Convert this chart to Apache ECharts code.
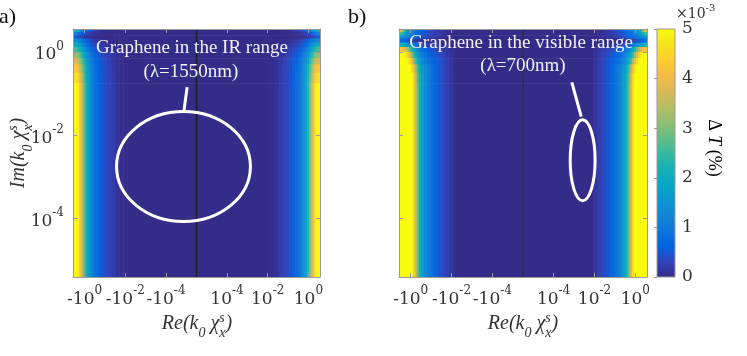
<!DOCTYPE html>
<html>
<head>
<meta charset="utf-8">
<script src="https://cdn.jsdelivr.net/npm/echarts@6/dist/echarts.min.js"></script>
<style>
html, body { margin: 0; padding: 0; background: #fff; }
#main { width: 747px; height: 356px; }
</style>
</head>
<body>
<div id="main"></div>
<script>
// x is plotted as sign(Re) * (log10|Re| + 5.5), y as log10(Im)
var X_MIN = -6.07, X_MAX = 6.07;
var Y_MIN = -5.4, Y_MAX = 0.55;

var xTickVals = [-5.5, -3.5, -1.5, 1.5, 3.5, 5.5];
var xTickLabels = ['-10^0', '-10^-2', '-10^-4', '10^-4', '10^-2', '10^0'];
var yTickVals = [0, -2, -4];
var yTickLabels = ['10^0', '10^-2', '10^-4'];

// column edges of the left half (mirrored for the right half)
var colEdges = [-6.07, -5.9, -5.8, -5.7, -5.6, -5.5, -5.4, -5.3, -5.2, -5.1, -5.0,
  -4.85, -4.7, -4.55, -4.4, -4.2, -4.0, -3.8, -3.6, -3.4, 0];
// row edges, top to bottom (log10 Im)
var rowEdges = [0.55, 0.48, 0.40, 0.32, 0.22, 0.12, 0.0, -0.15, -0.3, -0.5, -0.75, -5.4];

// ΔT (x1e-3 %), panel a (1550 nm)
var valuesA = [
  [2.2, 1.9, 1.6, 1.3, 1.05, 0.85, 0.65, 0.5, 0.38, 0.28, 0.2, 0.14, 0.1, 0.07, 0.05, 0.03, 0.02, 0.02, 0.02, 0.02],
  [1.3, 1.1, 0.9, 0.7, 0.55, 0.42, 0.32, 0.24, 0.18, 0.13, 0.1, 0.07, 0.05, 0.04, 0.03, 0.02, 0.02, 0.02, 0.02, 0.02],
  [0.6, 0.5, 0.4, 0.3, 0.22, 0.15, 0.1, 0.07, 0.05, 0.03, 0.02, 0.01, 0.01, 0.01, 0.01, 0.01, 0.01, 0.01, 0.01, 0.01],
  [1.4, 1.3, 1.15, 1.0, 0.85, 0.7, 0.55, 0.43, 0.33, 0.25, 0.19, 0.14, 0.1, 0.07, 0.05, 0.04, 0.03, 0.02, 0.02, 0.02],
  [2.0, 1.9, 1.7, 1.45, 1.2, 1.0, 0.8, 0.64, 0.5, 0.4, 0.32, 0.25, 0.19, 0.14, 0.1, 0.07, 0.04, 0.03, 0.02, 0.02],
  [2.6, 2.5, 2.2, 1.9, 1.6, 1.3, 1.05, 0.85, 0.69, 0.55, 0.45, 0.36, 0.28, 0.22, 0.16, 0.11, 0.06, 0.04, 0.03, 0.02],
  [3.2, 3.1, 2.8, 2.4, 2.0, 1.65, 1.35, 1.1, 0.9, 0.73, 0.59, 0.48, 0.38, 0.3, 0.22, 0.15, 0.08, 0.05, 0.03, 0.02],
  [3.8, 3.7, 3.3, 2.9, 2.4, 1.95, 1.6, 1.3, 1.05, 0.86, 0.7, 0.57, 0.45, 0.36, 0.27, 0.18, 0.09, 0.05, 0.03, 0.02],
  [4.3, 4.2, 3.8, 3.2, 2.7, 2.2, 1.75, 1.4, 1.12, 0.92, 0.76, 0.62, 0.48, 0.38, 0.29, 0.2, 0.1, 0.05, 0.03, 0.02],
  [4.7, 4.6, 4.1, 3.5, 2.9, 2.3, 1.85, 1.47, 1.17, 0.94, 0.79, 0.64, 0.5, 0.4, 0.3, 0.21, 0.1, 0.05, 0.03, 0.02],
  [5.0, 4.9, 4.4, 3.7, 3.0, 2.4, 1.9, 1.5, 1.2, 0.95, 0.8, 0.65, 0.5, 0.4, 0.3, 0.22, 0.1, 0.05, 0.03, 0.02]
];

// panel b (700 nm)
var valuesB = [
  [4.0, 3.0, 2.2, 1.8, 1.5, 1.3, 1.15, 1.0, 0.88, 0.76, 0.64, 0.53, 0.43, 0.34, 0.26, 0.19, 0.13, 0.08, 0.05, 0.02],
  [2.6, 2.2, 1.8, 1.5, 1.3, 1.15, 1.0, 0.88, 0.76, 0.65, 0.55, 0.46, 0.38, 0.3, 0.23, 0.17, 0.11, 0.07, 0.04, 0.02],
  [1.6, 1.4, 1.3, 1.15, 1.0, 0.9, 0.8, 0.7, 0.6, 0.5, 0.42, 0.35, 0.28, 0.22, 0.17, 0.12, 0.08, 0.05, 0.03, 0.02],
  [0.8, 0.7, 0.6, 0.5, 0.4, 0.33, 0.27, 0.22, 0.17, 0.13, 0.1, 0.07, 0.05, 0.04, 0.03, 0.02, 0.02, 0.01, 0.01, 0.01],
  [2.2, 2.0, 1.8, 1.6, 1.4, 1.2, 1.0, 0.8, 0.62, 0.5, 0.4, 0.33, 0.27, 0.22, 0.17, 0.13, 0.09, 0.06, 0.04, 0.02],
  [4.2, 4.0, 3.7, 3.3, 2.8, 2.3, 1.9, 1.55, 1.25, 1.02, 0.82, 0.67, 0.56, 0.46, 0.38, 0.3, 0.22, 0.15, 0.09, 0.02],
  [5, 5, 4.8, 4.4, 3.8, 3.1, 2.5, 2.0, 1.6, 1.3, 1.05, 0.86, 0.71, 0.6, 0.5, 0.4, 0.3, 0.2, 0.12, 0.02],
  [5, 5, 5, 4.9, 4.6, 4.0, 3.2, 2.5, 2.0, 1.6, 1.3, 1.05, 0.86, 0.72, 0.6, 0.48, 0.34, 0.24, 0.14, 0.02],
  [5, 5, 5, 5, 5, 4.7, 4.0, 3.2, 2.5, 2.0, 1.6, 1.3, 1.05, 0.85, 0.7, 0.5, 0.35, 0.25, 0.15, 0.02],
  [5, 5, 5, 5, 5, 5, 4.4, 3.5, 2.7, 2.2, 1.7, 1.35, 1.05, 0.85, 0.7, 0.5, 0.35, 0.25, 0.15, 0.02],
  [5, 5, 5, 5, 5, 5, 4.5, 3.6, 2.8, 2.2, 1.7, 1.35, 1.05, 0.85, 0.7, 0.5, 0.35, 0.25, 0.15, 0.02]
];

// annotations: ellipse [cx, cy, rx, ry] and pointer line [x1, y1, x2, y2]
var ellipseA = [[-0.64, -2.75, 3.29, 1.32]];
var stemA = [[-0.46, -0.845, -0.62, -1.43]];
var ellipseB = [[2.92, -2.60, 0.61, 0.97]];
var stemB = [[2.39, -0.73, 2.85, -1.55]];

var colorRange = [0, 5];

var parula = ['#352a87', '#3243ba', '#0363e1', '#0d75dc', '#1485d4', '#0998d1',
  '#06a7c6', '#15b1b4', '#38b99e', '#65be86', '#92bf73', '#b7bd64',
  '#d9ba56', '#f8ba44', '#fcce2e', '#f5e41d', '#f9fb0e'];

var FONT = '"Liberation Serif", "DejaVu Serif", serif';
var TICKFONT = '"DejaVu Serif", serif';
var FRAME = '#9a9a9a';
var TXT = '#333';

function buildCells(rows) {
  var out = [];
  rows.forEach(function (vals, r) {
    var y0 = rowEdges[r + 1], y1 = rowEdges[r];
    vals.forEach(function (v, c) {
      var x0 = colEdges[c], x1 = colEdges[c + 1];
      out.push([x0, x1, y0, y1, v]);
      out.push([-x1, -x0, y0, y1, v]);
    });
  });
  return out;
}

function renderCell(params, api) {
  var p0 = api.coord([api.value(0), api.value(3)]);
  var p1 = api.coord([api.value(1), api.value(2)]);
  return {
    type: 'rect',
    shape: { x: p0[0], y: p0[1], width: p1[0] - p0[0] + 0.6, height: p1[1] - p0[1] + 0.6 },
    style: { fill: api.visual('color') }
  };
}

function renderEllipse(params, api) {
  var c = api.coord([api.value(0), api.value(1)]);
  var s = api.size([api.value(2), api.value(3)]);
  return {
    type: 'ellipse',
    shape: { cx: c[0], cy: c[1], rx: s[0], ry: s[1] },
    style: { fill: null, stroke: '#fff', lineWidth: 3 }
  };
}

function renderLine(color, width) {
  return function (params, api) {
    var a = api.coord([api.value(0), api.value(1)]);
    var b = api.coord([api.value(2), api.value(3)]);
    return {
      type: 'line',
      shape: { x1: a[0], y1: a[1], x2: b[0], y2: b[1] },
      style: { stroke: color, lineWidth: width }
    };
  };
}

function powLabel(s) {
  var p = s.split('^');
  return '{b|' + p[0] + '}{s|' + p[1] + '}';
}

var tickRich = {
  b: { fontFamily: TICKFONT, fontSize: 17, color: TXT, verticalAlign: 'bottom', lineHeight: 23 },
  s: { fontFamily: TICKFONT, fontSize: 12, color: TXT, verticalAlign: 'top', lineHeight: 12 }
};

function makeX(grid, pos, labels) {
  return {
    type: 'value', gridIndex: grid, position: pos, min: X_MIN, max: X_MAX, z: 5,
    axisLine: { show: true, onZero: false, lineStyle: { color: FRAME } },
    splitLine: { show: false },
    axisTick: { show: true, inside: true, length: 4, customValues: xTickVals, lineStyle: { color: FRAME } },
    axisLabel: {
      show: labels, customValues: xTickVals, margin: 8, rich: tickRich,
      formatter: function (v) { return powLabel(xTickLabels[xTickVals.indexOf(v)]); }
    }
  };
}

function makeY(grid, pos, labels) {
  return {
    type: 'value', gridIndex: grid, position: pos, min: Y_MIN, max: Y_MAX, z: 5,
    axisLine: { show: true, onZero: false, lineStyle: { color: FRAME } },
    splitLine: { show: false },
    axisTick: { show: true, inside: true, length: 4, customValues: yTickVals, lineStyle: { color: FRAME } },
    axisLabel: {
      show: labels, customValues: yTickVals, margin: 9, rich: tickRich,
      formatter: function (v) { return powLabel(yTickLabels[yTickVals.indexOf(v)]); }
    }
  };
}

// italic math-like label built from pieces, s/x stacked after chi
var measureCtx = document.createElement('canvas').getContext('2d');
function mathLabel(pieces, size, x, y, rotation) {
  var children = [], pos = 0;
  pieces.forEach(function (p) {
    var fs = p.small ? Math.round(size * 0.68) : size;
    var font = 'italic ' + fs + 'px ' + FONT;
    measureCtx.font = font;
    var w = measureCtx.measureText(p.t).width;
    children.push({
      type: 'text', x: pos, y: (p.dy || 0) * size,
      style: { text: p.t, font: font, fill: TXT, verticalAlign: 'bottom' }
    });
    if (!p.stack) pos += w;
  });
  children.forEach(function (c) { c.x -= pos / 2; });
  return { type: 'group', x: x, y: y, rotation: rotation || 0, children: children };
}

function chiLabel(head) {
  return [
    { t: head + '(k' },
    { t: '0', small: true, dy: 0.32 },
    { t: ' \u03c7' },
    { t: 's', small: true, dy: -0.42, stack: true },
    { t: 'x', small: true, dy: 0.32 },
    { t: ')' }
  ];
}

var chart = echarts.init(document.getElementById('main'));

var option = {
  animation: false,
  grid: [
    { left: 73, top: 29, width: 247, height: 248 },
    { left: 399, top: 29, width: 248, height: 248 },
    { left: 657, top: 29, width: 18, height: 248 }
  ],
  xAxis: [
    makeX(0, 'bottom', true), makeX(0, 'top', false),
    makeX(1, 'bottom', true), makeX(1, 'top', false),
    { type: 'value', gridIndex: 2, min: 0, max: 1, show: false }
  ],
  yAxis: [
    makeY(0, 'left', true), makeY(0, 'right', false),
    makeY(1, 'left', false), makeY(1, 'right', false),
    {
      type: 'value', gridIndex: 2, position: 'right', min: colorRange[0], max: colorRange[1], interval: 1, z: 5,
      axisLine: { show: false }, splitLine: { show: false },
      axisTick: { show: true, inside: true, length: 3, lineStyle: { color: FRAME } },
      axisLabel: { fontFamily: TICKFONT, fontSize: 17, color: TXT, margin: 7 }
    }
  ],
  visualMap: {
    type: 'continuous', show: false, min: colorRange[0], max: colorRange[1],
    dimension: 4, seriesIndex: [0, 1], inRange: { color: parula }
  },
  series: [
    { type: 'custom', xAxisIndex: 0, yAxisIndex: 0, z: 1, encode: { x: [0, 1], y: [2, 3] },
      renderItem: renderCell, data: buildCells(valuesA), silent: true },
    { type: 'custom', xAxisIndex: 2, yAxisIndex: 2, z: 1, encode: { x: [0, 1], y: [2, 3] },
      renderItem: renderCell, data: buildCells(valuesB), silent: true },
    { type: 'custom', xAxisIndex: 0, yAxisIndex: 0, z: 3, renderItem: renderLine('#1e1e28', 1.6),
      data: [[0, Y_MIN, 0, Y_MAX]], silent: true },
    { type: 'custom', xAxisIndex: 2, yAxisIndex: 2, z: 3, renderItem: renderLine('#2a2a3a', 1.2),
      data: [[0, Y_MIN, 0, Y_MAX]], silent: true },
    { type: 'custom', xAxisIndex: 0, yAxisIndex: 0, z: 4, renderItem: renderEllipse, data: ellipseA, silent: true },
    { type: 'custom', xAxisIndex: 0, yAxisIndex: 0, z: 4, renderItem: renderLine('#fff', 3), data: stemA, silent: true },
    { type: 'custom', xAxisIndex: 2, yAxisIndex: 2, z: 4, renderItem: renderEllipse, data: ellipseB, silent: true },
    { type: 'custom', xAxisIndex: 2, yAxisIndex: 2, z: 4, renderItem: renderLine('#fff', 3), data: stemB, silent: true },
    { type: 'custom', xAxisIndex: 4, yAxisIndex: 4, z: 1, silent: true,
      data: [[0, 1, colorRange[0], colorRange[1]]],
      renderItem: function (params, api) {
        var p0 = api.coord([api.value(0), api.value(3)]);
        var p1 = api.coord([api.value(1), api.value(2)]);
        var stops = parula.map(function (c, i) { return { offset: i / (parula.length - 1), color: c }; });
        return {
          type: 'rect',
          shape: { x: p0[0], y: p0[1], width: p1[0] - p0[0], height: p1[1] - p0[1] },
          style: { fill: new echarts.graphic.LinearGradient(0, 1, 0, 0, stops), stroke: FRAME, lineWidth: 1 }
        };
      } }
  ],
  graphic: [
    { type: 'text', left: -1, top: 6, style: { text: 'a)', font: '22px ' + FONT, fill: '#111' } },
    { type: 'text', left: 348, top: 6, style: { text: 'b)', font: '22px ' + FONT, fill: '#111' } },
    { type: 'text', x: 192, y: 48, z: 10, style: { text: 'Graphene in the IR range', font: '19px ' + FONT, fill: '#f2f2f2', align: 'center', verticalAlign: 'middle' } },
    { type: 'text', x: 191, y: 72, z: 10, style: { text: '(\u03bb=1550nm)', font: '19px ' + FONT, fill: '#f2f2f2', align: 'center', verticalAlign: 'middle' } },
    { type: 'text', x: 521, y: 43, z: 10, style: { text: 'Graphene in the visible range', font: '19px ' + FONT, fill: '#f2f2f2', align: 'center', verticalAlign: 'middle' } },
    { type: 'text', x: 523, y: 66, z: 10, style: { text: '(\u03bb=700nm)', font: '19px ' + FONT, fill: '#f2f2f2', align: 'center', verticalAlign: 'middle' } },
    { type: 'text', x: 676, y: 3, style: {
      text: '{a|\u00d710}{b|-3}', fill: TXT,
      rich: { a: { fontFamily: TICKFONT, fontSize: 14, color: TXT, verticalAlign: 'bottom', lineHeight: 18 },
              b: { fontFamily: TICKFONT, fontSize: 10, color: TXT, verticalAlign: 'top', lineHeight: 10 } } } },
    { type: 'text', x: 714, y: 148, rotation: -Math.PI / 2, style: {
      text: '{n|\u0394 }{i|T}{n| (%)}', align: 'center', verticalAlign: 'middle',
      rich: { n: { fontFamily: FONT, fontSize: 18, color: TXT }, i: { fontFamily: FONT, fontSize: 18, fontStyle: 'italic', color: TXT } } } },
    mathLabel(chiLabel('Re'), 20, 197, 334, 0),
    mathLabel(chiLabel('Re'), 20, 523, 334, 0),
    mathLabel(chiLabel('Im'), 20, 29, 153, Math.PI / 2)
  ]
};

chart.setOption(option);
</script>
</body>
</html>
